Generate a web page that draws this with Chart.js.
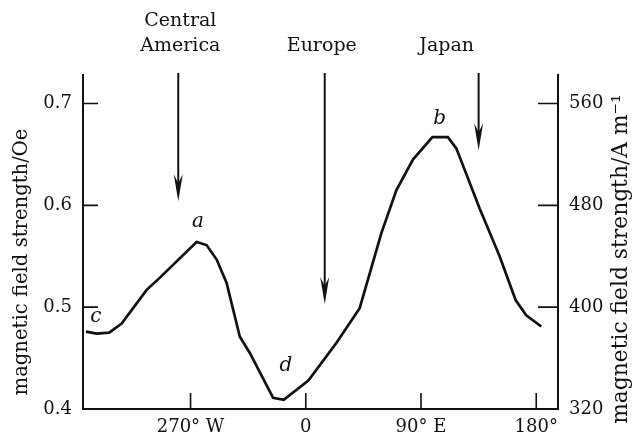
<!DOCTYPE html>
<html>
<head>
<meta charset="utf-8">
<script src="https://cdn.jsdelivr.net/npm/chart.js@4"></script>
<style>
  html, body { margin: 0; padding: 0; background: #fff; }
  #wrap { width: 634px; height: 434px; }
</style>
</head>
<body>
<div id="wrap"><canvas id="chart"></canvas></div>
<script>
// Field strength along the curve (longitude in degrees, west negative)
const longitude = [-171.7, -163.3, -153.5, -143.8, -124.3, -113.9, -85.3, -77.5, -69.7, -61.9, -51.5, -43.7, -25.5, -17.2, 2, 24, 42.1, 59.1, 70.8, 83.7, 98.9, 111, 117.6, 135.8, 151.4, 163.9, 172.2, 183.9];
const fieldOe = [0.476, 0.474, 0.475, 0.484, 0.517, 0.529, 0.564, 0.561, 0.547, 0.524, 0.471, 0.455, 0.411, 0.409, 0.428, 0.465, 0.499, 0.573, 0.615, 0.645, 0.667, 0.667, 0.656, 0.597, 0.550, 0.507, 0.492, 0.481];

// axis ticks
const xTicks = [-90, 0, 90, 180];
const xTickLabels = ['270° W', '0', '90° E', '180°'];
const yTicksOe = [0.4, 0.5, 0.6, 0.7];
const yTicksAm = [320, 400, 480, 560];

// arrows pointing at places
const placeNames = [['Central', 'America'], ['Europe'], ['Japan']];
const placeLabelLon = [-98, 12.5, 110];
const arrowLon = [-99.6, 14.8, 135];
const arrowTipOe = [0.604, 0.503, 0.654];

// letter marks on the curve
const markText = ['a', 'b', 'c', 'd'];
const markLon = [-84.3, 104.6, -163.9, -15.6];
const markOe = [0.584, 0.685, 0.491, 0.442];

const OE_TO_AM = 800;  // right axis scale factor used by the figure
const yMin = 0.4, yMax = 0.728;

const serif = '"DejaVu Serif", serif';

// draw rotated text squeezed/stretched to a given length
function verticalTitle(ctx, text, cx, cy, length) {
  ctx.save();
  ctx.font = '20px ' + serif;
  const w = ctx.measureText(text).width;
  const size = Math.min(22, 20 * length / w);
  ctx.font = size.toFixed(1) + 'px ' + serif;
  ctx.translate(cx, cy);
  ctx.rotate(-Math.PI / 2);
  ctx.fillText(text, 0, 0);
  ctx.restore();
}

const decorations = {
  id: 'decorations',
  afterDraw(chart) {
    const ctx = chart.ctx;
    const x = chart.scales.x, y = chart.scales.y, y1 = chart.scales.y1;
    const area = chart.chartArea;
    ctx.save();
    ctx.strokeStyle = '#111';
    ctx.fillStyle = '#111';

    // inward tick marks
    ctx.lineWidth = 1.6;
    ctx.beginPath();
    y.ticks.forEach(t => {
      const py = y.getPixelForValue(t.value);
      if (py >= area.bottom - 1) return;
      ctx.moveTo(area.left, py); ctx.lineTo(area.left + 15, py);
    });
    y1.ticks.forEach(t => {
      const py = y1.getPixelForValue(t.value);
      if (py >= area.bottom - 1) return;
      ctx.moveTo(area.right, py); ctx.lineTo(area.right - 20, py);
    });
    x.ticks.forEach(t => {
      const px = x.getPixelForValue(t.value);
      ctx.moveTo(px, area.bottom); ctx.lineTo(px, area.bottom - 16);
    });
    ctx.stroke();

    // arrows
    arrowLon.forEach((lon, i) => {
      const px = x.getPixelForValue(lon);
      const tip = y.getPixelForValue(arrowTipOe[i]);
      ctx.lineWidth = 2;
      ctx.beginPath();
      ctx.moveTo(px, area.top - 2); ctx.lineTo(px, tip - 10);
      ctx.stroke();
      ctx.beginPath();
      ctx.moveTo(px, tip);
      ctx.lineTo(px - 4.5, tip - 27);
      ctx.lineTo(px, tip - 18);
      ctx.lineTo(px + 4.5, tip - 27);
      ctx.closePath();
      ctx.fill();
    });

    // place names
    ctx.font = '19px ' + serif;
    ctx.textAlign = 'center';
    ctx.textBaseline = 'middle';
    placeNames.forEach((lines, i) => {
      const px = x.getPixelForValue(placeLabelLon[i]);
      lines.forEach((s, j) => {
        const py = 46 - (lines.length - 1 - j) * 25;
        ctx.fillText(s, px, py);
      });
    });

    // letter marks
    ctx.font = 'italic 20px ' + serif;
    markText.forEach((s, i) => {
      ctx.fillText(s, x.getPixelForValue(markLon[i]), y.getPixelForValue(markOe[i]));
    });

    // axis titles
    verticalTitle(ctx, 'magnetic field strength/Oe', 22, 262, 267);
    verticalTitle(ctx, 'magnetic field strength/A m\u207B\u00B9', 621, 259, 330);

    ctx.restore();
  }
};

new Chart(document.getElementById('chart'), {
  type: 'line',
  data: {
    datasets: [{
      data: longitude.map((lon, i) => ({ x: lon, y: fieldOe[i] })),
      borderColor: '#111',
      borderWidth: 2.7,
      pointRadius: 0,
      tension: 0,
      fill: false
    }]
  },
  options: {
    responsive: true,
    maintainAspectRatio: false,
    animation: false,
    layout: { padding: { top: 75, left: 0, right: 0, bottom: 0 } },
    plugins: { legend: { display: false }, tooltip: { enabled: false } },
    scales: {
      x: {
        type: 'linear',
        min: -174,
        max: 197,
        afterBuildTicks: s => { s.ticks = xTicks.map(v => ({ value: v })); },
        afterFit: s => { s.height = 25; },
        grid: { display: false },
        border: { display: true, color: '#111', width: 2 },
        ticks: {
          color: '#111',
          font: { family: serif, size: 18 },
          padding: 0,
          maxRotation: 0,
          autoSkip: false,
          callback: v => xTickLabels[xTicks.indexOf(v)]
        }
      },
      y: {
        position: 'left',
        min: yMin,
        max: yMax,
        afterBuildTicks: s => { s.ticks = yTicksOe.map(v => ({ value: v })); },
        afterFit: s => { s.width = 83; },
        grid: { display: false },
        border: { display: true, color: '#111', width: 2 },
        ticks: {
          color: '#111',
          font: { family: serif, size: 18 },
          padding: 3,
          callback: v => v.toFixed(1)
        }
      },
      y1: {
        position: 'right',
        min: yMin * OE_TO_AM,
        max: yMax * OE_TO_AM,
        afterBuildTicks: s => { s.ticks = yTicksAm.map(v => ({ value: v })); },
        afterFit: s => { s.width = 76; },
        grid: { display: false },
        border: { display: true, color: '#111', width: 2 },
        ticks: {
          color: '#111',
          font: { family: serif, size: 18 },
          padding: 3,
          callback: v => String(Math.round(v))
        }
      }
    }
  },
  plugins: [decorations]
});
</script>
</body>
</html>
